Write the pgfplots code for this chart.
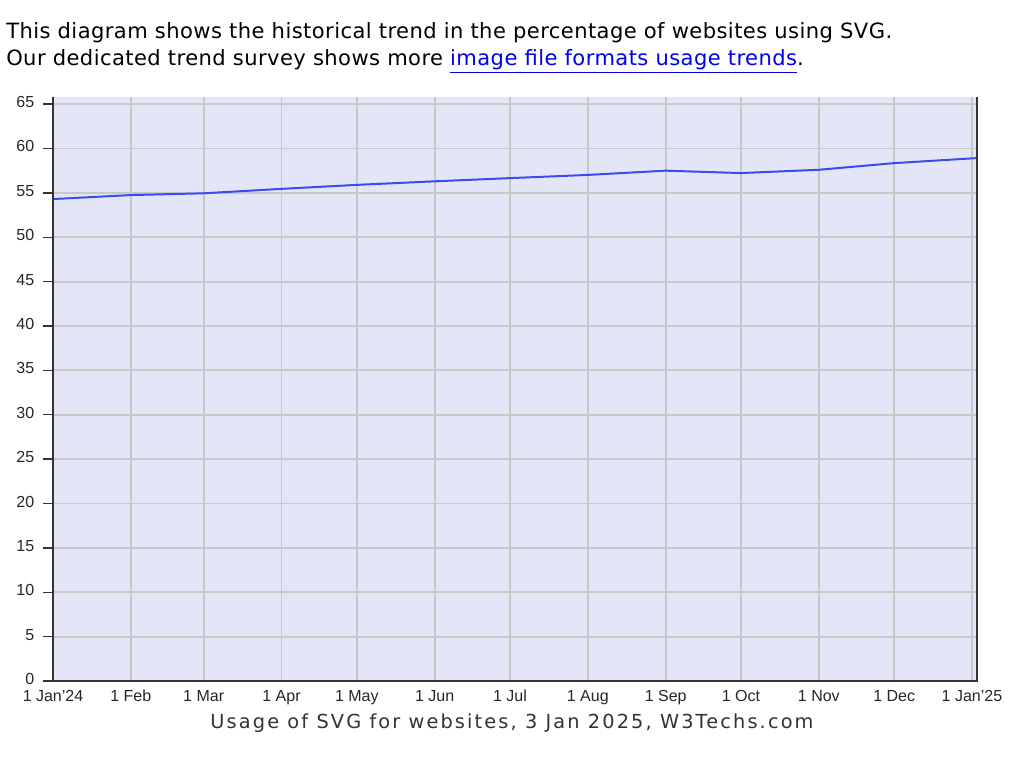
\documentclass[border=0pt]{standalone}
\usepackage{pgfplots}
\pgfplotsset{compat=1.18}
\usepackage{fontspec}
\setmainfont{Liberation Sans}
\newfontfamily\dejavu{DejaVu Sans}
\definecolor{bg}{HTML}{E4E6F7}
\definecolor{gridc}{HTML}{C8C8C8}
\definecolor{serie}{HTML}{3A4CF0}
\definecolor{linkc}{HTML}{0000EE}
\definecolor{spine}{HTML}{333333}
\begin{document}
\begin{tikzpicture}
\path[use as bounding box] (0,0) rectangle (768pt,-569.25pt);
\node[anchor=base west, inner sep=0pt, font=\dejavu\fontsize{15.8pt}{18pt}\selectfont\addfontfeature{LetterSpace=2}] at (4.5pt,-29.25pt) {This diagram shows the historical trend in the percentage of websites using SVG.};
\node[anchor=base west, inner sep=0pt, font=\dejavu\fontsize{15.8pt}{18pt}\selectfont\addfontfeature{LetterSpace=2}] at (4.5pt,-49.5pt) {Our dedicated trend survey shows more \textcolor{linkc}{\underline{image file formats usage trends}}.};
\begin{axis}[
  at={(39.75pt,-510.75pt)}, anchor=south west,
  scale only axis, width=693pt, height=438pt,
  xmin=0, xmax=368, ymin=0, ymax=65.8,
  axis background/.style={fill=bg},
  axis line style={draw=none},
  grid=major,
  major grid style={gridc, line width=1.4pt},
  xtick={0,31,60,91,121,152,182,213,244,274,305,335,366},
  xticklabels={1 Jan'24,1 Feb,1 Mar,1 Apr,1 May,1 Jun,1 Jul,1 Aug,1 Sep,1 Oct,1 Nov,1 Dec,1 Jan'25},
  ytick={0,5,...,65},
  xtick style={draw=none},
  ytick pos=left, xtick pos=bottom,
  tick align=outside,
  major tick length=7.5pt,
  ytick style={draw=spine, line width=1pt},
  tick label style={font=\fontsize{12pt}{13pt}\selectfont, text=black!85},
  xticklabel style={text height=8.6pt, text depth=2.5pt, yshift=4.5pt},
  yticklabel style={xshift=-3pt, yshift=1.5pt},
  /pgf/number format/assume math mode=true,
  clip=false,
]
\addplot[serie, line width=1.5pt] coordinates {
(0,54.3)(31,54.75)(60,54.95)(91,55.45)(121,55.9)(152,56.3)(182,56.66)(213,57.02)(244,57.5)(274,57.23)(305,57.6)(335,58.35)(368,58.92)
};
\draw[spine, line width=1.4pt] (axis cs:0,65.8) -- (axis cs:0,0) -- (axis cs:368,0) -- (axis cs:368,65.8);
\end{axis}
\node[anchor=base, inner sep=0pt, font=\dejavu\fontsize{14.5pt}{16pt}\selectfont\addfontfeature{LetterSpace=11}, text=spine] at (384pt,-546pt) {Usage of SVG for websites, 3 Jan 2025, W3Techs.com};
\end{tikzpicture}
\end{document}
